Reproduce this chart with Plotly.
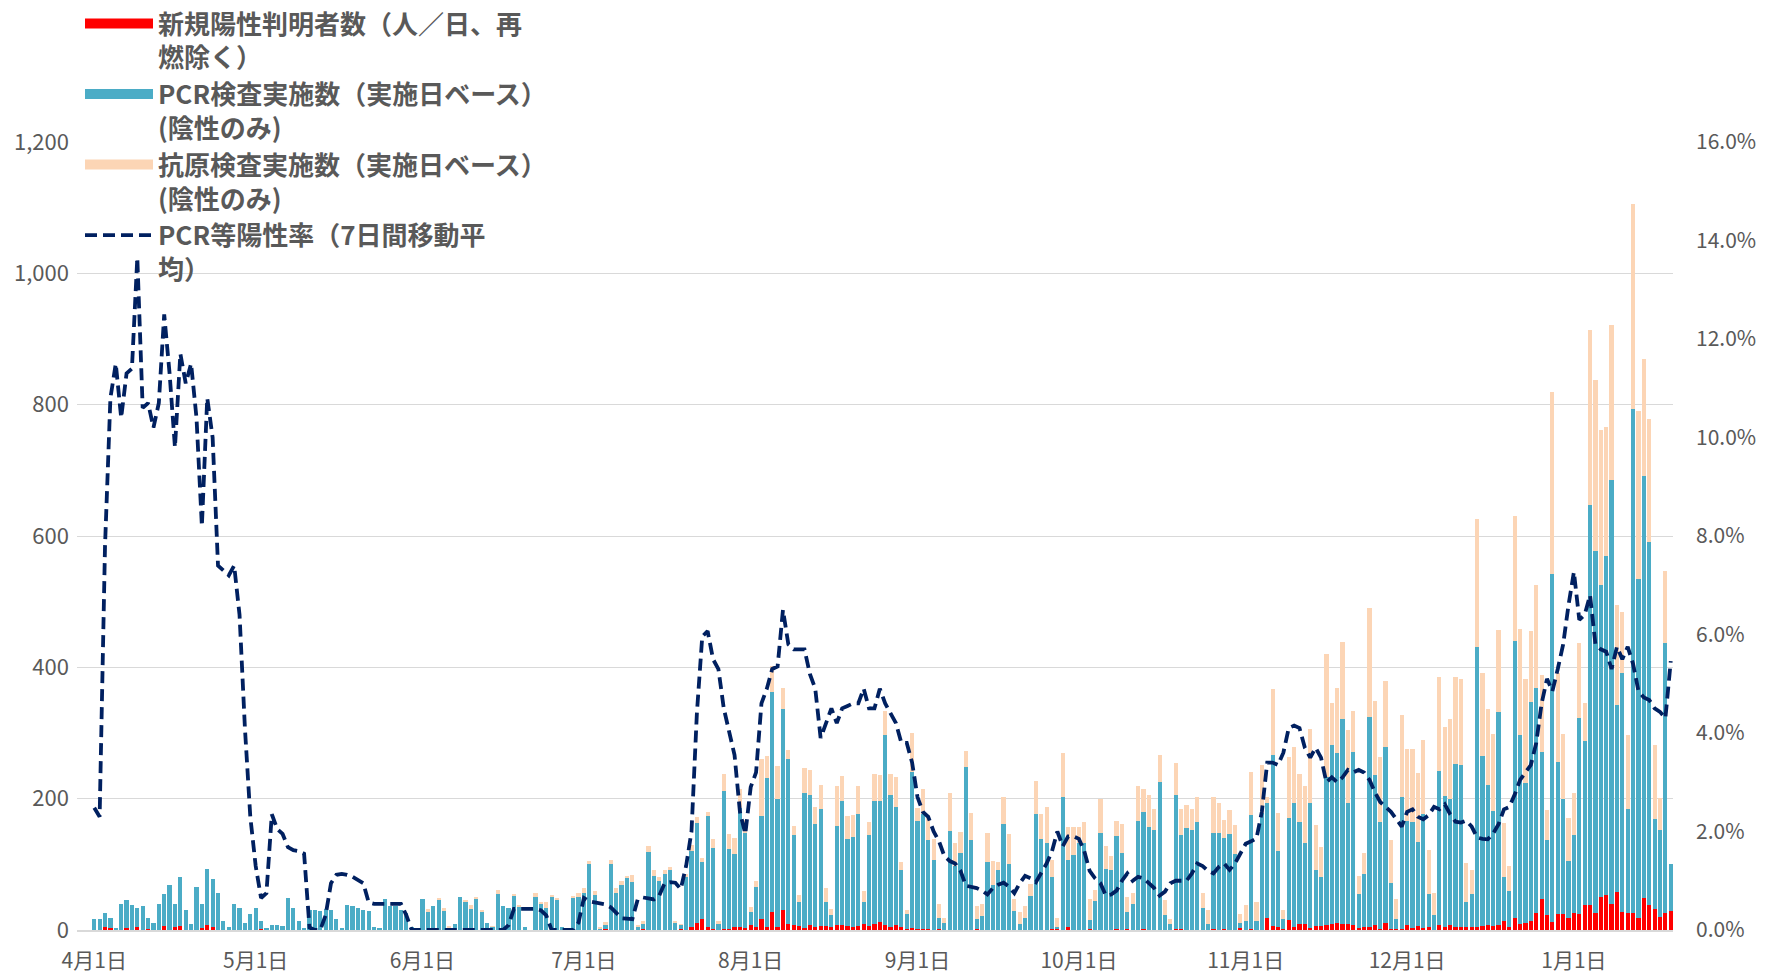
import pandas as pd
import plotly.graph_objects as go

START = "2020-04-01"

# 新規陽性判明者数（人／日）
positives = [
    0, 0, 5, 3, 0, 0, 3, 0, 5, 0,
    2, 0, 0, 6, 0, 4, 6, 0, 0, 0,
    3, 7, 4, 0, 0, 0, 0, 0, 0, 0,
    0, 1, 0, 0, 0, 0, 0, 0, 0, 0,
    0, 0, 0, 0, 0, 0, 0, 0, 0, 0,
    0, 0, 0, 0, 0, 0, 0, 0, 0, 0,
    0, 0, 0, 0, 0, 0, 0, 0, 0, 0,
    0, 0, 0, 0, 0, 0, 0, 0, 0, 0,
    0, 0, 0, 0, 0, 0, 0, 0, 1, 0,
    0, 0, 0, 0, 0, 1, 0, 0, 0, 0,
    0, 1, 1, 0, 0, 0, 0, 0, 0, 1,
    0, 4, 10, 16, 5, 1, 0, 1, 1, 5,
    5, 3, 7, 4, 17, 4, 28, 4, 30, 9,
    7, 6, 3, 8, 5, 6, 6, 4, 8, 7,
    6, 4, 6, 9, 6, 9, 12, 7, 4, 7,
    4, 2, 3, 2, 1, 2, 0, 1, 0, 0,
    0, 0, 0, 0, 2, 0, 0, 0, 0, 0,
    0, 0, 0, 0, 0, 0, 0, 0, 2, 3,
    0, 4, 0, 0, 0, 1, 0, 0, 0, 0,
    1, 0, 1, 0, 0, 1, 0, 0, 0, 0,
    0, 1, 1, 0, 0, 0, 0, 0, 2, 0,
    1, 0, 0, 3, 0, 1, 0, 0, 19, 6,
    4, 1, 15, 4, 9, 9, 3, 6, 6, 8,
    9, 11, 9, 9, 8, 3, 4, 5, 7, 2,
    11, 1, 1, 2, 8, 3, 6, 3, 4, 0,
    8, 4, 8, 4, 4, 4, 4, 4, 6, 7,
    6, 7, 13, 4, 18, 9, 11, 14, 26, 47,
    23, 12, 24, 25, 19, 26, 25, 38, 38, 26,
    51, 54, 40, 58, 27, 26, 26, 18, 49, 38,
    32, 20, 26, 29,
]

# PCR検査実施数（陰性のみ）
pcr_negative = [
    16, 17, 21, 16, 3, 39, 42, 38, 29, 37,
    17, 10, 40, 49, 68, 36, 75, 31, 9, 66,
    37, 86, 74, 57, 14, 5, 39, 34, 10, 25,
    34, 12, 2, 8, 8, 6, 48, 33, 13, 3,
    30, 30, 29, 32, 30, 17, 2, 38, 36, 34,
    31, 29, 4, 2, 47, 36, 36, 30, 26, 4,
    2, 47, 28, 37, 46, 29, 4, 9, 51, 43,
    32, 48, 28, 10, 5, 55, 37, 33, 52, 36,
    5, 0, 50, 40, 34, 51, 46, 4, 1, 49,
    51, 57, 101, 54, 3, 7, 100, 56, 69, 80,
    73, 3, 8, 119, 83, 75, 86, 91, 12, 7,
    80, 117, 153, 87, 168, 124, 9, 210, 122, 111,
    181, 144, 20, 61, 157, 227, 335, 196, 307, 252,
    138, 37, 206, 197, 157, 178, 37, 19, 151, 189,
    133, 137, 171, 34, 138, 188, 184, 290, 202, 180,
    87, 22, 237, 164, 176, 135, 106, 18, 11, 151,
    98, 117, 248, 137, 15, 21, 104, 69, 91, 161,
    100, 29, 9, 19, 52, 176, 138, 133, 79, 2,
    203, 103, 114, 132, 132, 14, 44, 148, 93, 91,
    142, 117, 27, 40, 166, 179, 157, 152, 226, 23,
    9, 204, 143, 156, 152, 165, 34, 9, 146, 148,
    139, 146, 116, 8, 13, 174, 14, 178, 174, 260,
    117, 15, 156, 190, 156, 124, 190, 85, 75, 225,
    272, 258, 313, 184, 263, 52, 81, 320, 229, 163,
    268, 71, 15, 201, 158, 162, 128, 174, 51, 23,
    234, 200, 192, 249, 247, 39, 51, 427, 259, 214,
    175, 325, 67, 55, 422, 288, 213, 333, 342, 224,
    114, 530, 232, 174, 86, 119, 298, 250, 609, 551,
    475, 516, 646, 284, 365, 158, 768, 516, 642, 553,
    137, 132, 411, 72,
]

# 抗原検査実施数（陰性のみ）
antigen_negative = [
    0, 0, 0, 0, 0, 0, 0, 0, 0, 0,
    0, 0, 0, 0, 0, 0, 0, 0, 0, 0,
    0, 0, 0, 0, 0, 0, 0, 0, 0, 0,
    0, 0, 0, 0, 0, 0, 0, 0, 0, 0,
    0, 0, 0, 0, 0, 0, 0, 0, 0, 0,
    0, 0, 0, 0, 0, 0, 0, 0, 0, 0,
    0, 0, 4, 0, 3, 4, 1, 0, 0, 2,
    6, 2, 1, 0, 1, 6, 0, 0, 2, 2,
    0, 0, 7, 3, 8, 3, 3, 0, 1, 2,
    5, 7, 4, 5, 2, 4, 7, 8, 5, 3,
    11, 4, 5, 9, 8, 5, 6, 5, 2, 1,
    6, 8, 9, 7, 6, 13, 5, 27, 23, 24,
    29, 20, 8, 10, 87, 34, 39, 49, 31, 13,
    13, 10, 37, 38, 26, 37, 21, 9, 60, 38,
    34, 34, 43, 17, 20, 41, 40, 36, 32, 46,
    12, 7, 60, 20, 37, 38, 33, 21, 8, 57,
    34, 32, 24, 41, 20, 19, 43, 36, 12, 42,
    46, 18, 18, 18, 18, 51, 39, 54, 26, 14,
    67, 50, 43, 25, 32, 32, 17, 51, 35, 22,
    23, 44, 22, 16, 53, 34, 48, 32, 40, 22,
    8, 50, 40, 34, 33, 37, 23, 22, 54, 46,
    27, 37, 44, 14, 25, 66, 28, 73, 10, 101,
    57, 15, 93, 85, 72, 87, 113, 69, 46, 188,
    65, 100, 117, 111, 63, 27, 33, 165, 112, 98,
    100, 65, 31, 125, 109, 111, 105, 113, 67, 33,
    143, 105, 122, 133, 132, 59, 37, 195, 126, 116,
    117, 125, 83, 38, 191, 162, 159, 108, 158, 118,
    46, 277, 135, 99, 66, 64, 114, 58, 266, 260,
    235, 196, 236, 153, 92, 113, 311, 256, 179, 187,
    113, 49, 110, 0,
]

# PCR等陽性率（7日間移動平均, %）
positive_rate = [
    2.48, 2.3, 7.8, 10.8, 11.5, 10.4, 11.3, 11.4, 13.65, 10.6,
    10.7, 10.2, 10.7, 12.5, 11.3, 9.8, 11.7, 11.1, 11.5, 10.4,
    8.2, 10.8, 10.0, 7.4, 7.3, 7.2, 7.4, 6.4, 4.1, 2.3,
    1.3, 0.65, 0.75, 2.35, 2.05, 1.95, 1.68, 1.62, 1.6, 1.55,
    0.05, 0, 0, 0.3, 0.95, 1.12, 1.14, 1.12, 1.08, 1.02,
    0.95, 0.56, 0.53, 0.53, 0.53, 0.53, 0.53, 0.53, 0.3, 0,
    0, 0, 0, 0, 0, 0, 0, 0, 0, 0,
    0, 0, 0, 0, 0, 0, 0, 0.1, 0.43, 0.43,
    0.43, 0.43, 0.43, 0.4, 0.3, 0, 0, 0, 0, 0,
    0.15, 0.65, 0.58, 0.56, 0.55, 0.52, 0.46, 0.36, 0.24, 0.23,
    0.22, 0.62, 0.66, 0.64, 0.62, 0.7, 0.95, 0.97, 0.96, 0.83,
    1.3, 2.0, 4.4, 5.96, 6.07, 5.5, 5.3, 4.5, 4.0, 3.55,
    2.4, 1.95, 2.9, 3.2, 4.6, 4.9, 5.3, 5.35, 6.5, 5.8,
    5.7, 5.7, 5.7, 5.2, 4.9, 3.9, 4.2, 4.5, 4.2, 4.5,
    4.55, 4.6, 4.6, 4.9, 4.5, 4.5, 4.9, 4.6, 4.4, 4.2,
    3.8, 3.8, 3.4, 2.7, 2.4, 2.3, 2.0, 1.8, 1.5, 1.4,
    1.35, 1.2, 0.9, 0.88, 0.85, 0.8, 0.72, 0.85, 0.92, 0.96,
    0.88, 0.75, 0.95, 1.1, 1.05, 0.97, 1.15, 1.35, 1.6, 2.0,
    1.7, 1.9, 1.9, 1.85, 1.6, 1.2, 1.05, 0.95, 0.7, 0.72,
    0.8, 1.0, 1.15, 1.0, 1.08, 1.05, 0.95, 0.85, 0.7, 0.78,
    0.95, 1.0, 1.0, 1.0, 1.15, 1.35, 1.3, 1.2, 1.15, 1.28,
    1.35, 1.22, 1.35, 1.55, 1.75, 1.8, 1.86, 2.4, 3.4, 3.4,
    3.35, 3.6, 4.1, 4.15, 4.1, 3.7, 3.5, 3.7, 3.5, 3.0,
    3.1, 3.0, 3.1, 3.25, 3.2, 3.25, 3.2, 3.05, 2.8, 2.6,
    2.5, 2.4, 2.25, 2.1, 2.4, 2.45, 2.3, 2.25, 2.33, 2.5,
    2.45, 2.55, 2.35, 2.2, 2.18, 2.22, 2.1, 1.88, 1.85, 1.84,
    1.96, 2.15, 2.45, 2.5, 2.75, 3.05, 3.2, 3.35, 3.8, 4.6,
    5.1, 4.85, 5.3, 5.8, 6.6, 7.27, 6.3, 6.4, 6.8, 5.8,
    5.7, 5.65, 5.3, 5.75, 5.5, 5.75, 5.4, 4.85, 4.72, 4.67,
    4.5, 4.43, 4.3, 5.46,
]

NAMES = [
    "新規陽性判明者数（人／日、再<br>燃除く）",
    "PCR検査実施数（実施日ベース）<br>(陰性のみ)",
    "抗原検査実施数（実施日ベース）<br>(陰性のみ)",
    "PCR等陽性率（7日間移動平<br>均）",
]

RED = "#FF0000"
BLUE = "#4BACC6"
PEACH = "#FCD5B5"
NAVY = "#002060"
GRAY = "#595959"
GRID = "#D9D9D9"
FONT = "Noto Sans CJK JP"

dates = pd.date_range(START, periods=len(positives), freq="D")

fig = go.Figure()

# legend swatches (wide rectangles like the original)
for name, color, grp in [(NAMES[0], RED, "g1"), (NAMES[1], BLUE, "g2"), (NAMES[2], PEACH, "g3")]:
    fig.add_trace(go.Scatter(x=[None], y=[None], mode="lines", name=name, legendgroup=grp,
                             line=dict(color=color, width=16), hoverinfo="skip"))

fig.add_trace(go.Bar(x=dates, y=positives, name=NAMES[0], legendgroup="g1", showlegend=False,
                     marker=dict(color=RED, line=dict(width=0))))
fig.add_trace(go.Bar(x=dates, y=pcr_negative, name=NAMES[1], legendgroup="g2", showlegend=False,
                     marker=dict(color=BLUE, line=dict(width=0))))
fig.add_trace(go.Bar(x=dates, y=antigen_negative, name=NAMES[2], legendgroup="g3", showlegend=False,
                     marker=dict(color=PEACH, line=dict(width=0))))
fig.add_trace(go.Scatter(x=dates, y=positive_rate, name=NAMES[3], legendgroup="g4", yaxis="y2",
                         mode="lines", line=dict(color=NAVY, width=3.8, dash="12px,6px")))

fig.update_layout(
    width=1773, height=974,
    margin=dict(l=77, r=100, t=142, b=44, autoexpand=False),
    paper_bgcolor="white", plot_bgcolor="white",
    barmode="stack", bargap=0.22,
    font=dict(family=FONT, color=GRAY, size=21),
    xaxis=dict(
        type="date",
        range=["2020-03-28 19:00", "2021-01-19 10:00"],
        tick0=START, dtick="M1", tickformat="%-m月%-d日",
        showgrid=False, showline=True, linecolor=GRID, linewidth=1.5,
        ticks="", ticklabelstandoff=11,
        tickfont=dict(size=21, color=GRAY),
    ),
    yaxis=dict(
        range=[0, 1200], dtick=200, tickformat=",d",
        showgrid=True, gridcolor=GRID, gridwidth=1.3, zeroline=False,
        ticks="", ticklabelstandoff=7,
        tickfont=dict(size=22, color=GRAY),
    ),
    yaxis2=dict(
        overlaying="y", side="right",
        range=[0, 16], dtick=2, tickformat=".1f", ticksuffix="%",
        showgrid=False, zeroline=False, ticks="", ticklabelstandoff=22,
        tickfont=dict(size=21, color=GRAY),
    ),
    legend=dict(
        xref="container", yref="container", x=80 / 1773, y=1.02,
        xanchor="left", yanchor="top",
        bgcolor="rgba(0,0,0,0)", borderwidth=0,
        font=dict(family=FONT, size=26, color=GRAY, weight="bold"),
        itemwidth=68, valign="top", traceorder="grouped", tracegroupgap=0,
    ),
)

fig.write_html(
    "out.html",
    config={"displayModeBar": False},
    post_script="document.body.style.margin='0px';document.body.style.overflow='hidden';",
)
